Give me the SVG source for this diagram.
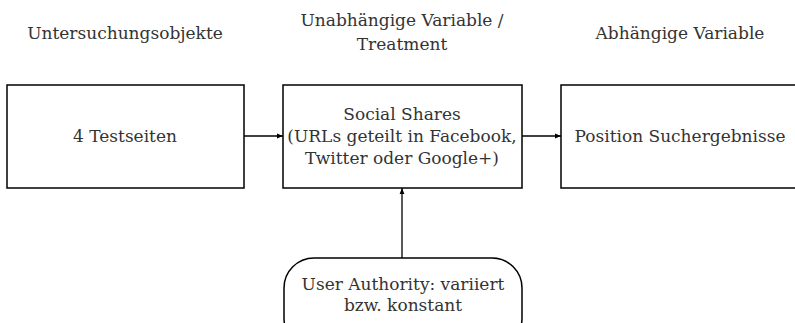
<svg xmlns="http://www.w3.org/2000/svg" width="795" height="323" viewBox="0 0 795 323">
<style>
text{font-family:"DejaVu Serif","Liberation Serif",serif;font-size:17px;fill:#333;text-anchor:middle}
.box{fill:#fff;stroke:#000;stroke-width:1.5}
.conn{stroke:#000;stroke-width:1.3;fill:none}
</style>
<defs>
<marker id="ah" viewBox="0 0 10 10" refX="10" refY="5" markerWidth="6" markerHeight="6" orient="auto" markerUnits="userSpaceOnUse"><path d="M0,1 L10,5 L0,9 z" fill="#000"/></marker>
</defs>
<rect width="795" height="323" fill="#fff"/>
<g id="headings">
<text x="125" y="39">Untersuchungsobjekte</text>
<text x="402" y="26">Unabhängige Variable /</text>
<text x="402" y="50">Treatment</text>
<text x="680" y="39">Abhängige Variable</text>
</g>
<g id="connectors">
<line class="conn" x1="244" y1="136" x2="283" y2="136" marker-end="url(#ah)"/>
<line class="conn" x1="522" y1="136" x2="561" y2="136" marker-end="url(#ah)"/>
<line class="conn" x1="402" y1="258" x2="402" y2="188" marker-end="url(#ah)"/>
</g>
<g id="n1">
<rect class="box" x="7" y="85" width="237" height="103"/>
<text x="125" y="142">4 Testseiten</text>
</g>
<g id="n2">
<rect class="box" x="283" y="85" width="239" height="103"/>
<text x="402" y="120">Social Shares</text>
<text x="402" y="142">(URLs geteilt in Facebook,</text>
<text x="402" y="164">Twitter oder Google+)</text>
</g>
<g id="n3">
<rect class="box" x="561" y="85" width="240" height="103"/>
<text x="680" y="142">Position Suchergebnisse</text>
</g>
<g id="n4">
<rect class="box" x="284" y="258" width="238" height="90" rx="30" ry="30"/>
<text x="403" y="290">User Authority: variiert</text>
<text x="403" y="311">bzw. konstant</text>
</g>
</svg>
